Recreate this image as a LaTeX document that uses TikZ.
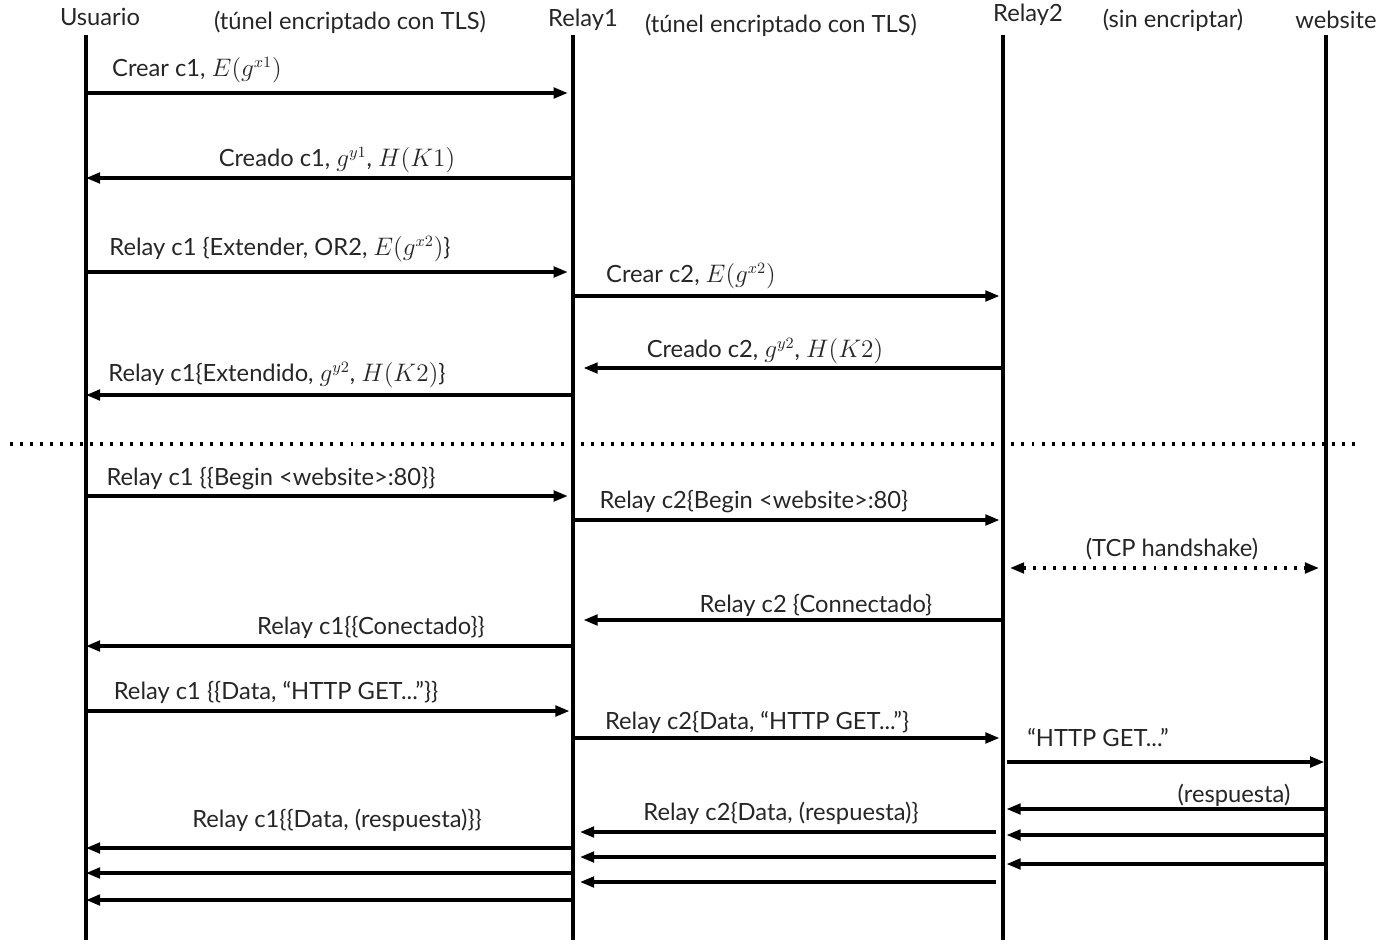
\documentclass[tikz,border=0pt]{standalone}
\usepackage{amsmath}
\usepackage[no-math]{fontspec}
\setmainfont{Lato}
\DeclareMathSizes{13.5}{13.5}{9.5}{7}
\usetikzlibrary{arrows.meta,calc,positioning}

\begin{document}
\begin{tikzpicture}[x=0.02cm,y=-0.02cm,
  lbl/.style={font=\fontsize{13.5}{16}\selectfont, text=black!85, inner sep=0pt},
  life/.style={line width=1.8pt},
  msg/.style={line width=1.8pt, -{Triangle[length=8pt,width=6pt]}},
  hand/.style={line width=1.8pt, dash pattern=on 1.7pt off 4pt, {Triangle[length=8pt,width=6pt]}-{Triangle[length=8pt,width=6pt]}}
]
  \useasboundingbox (0,0) rectangle (1385,943);

  % headers
  \node [lbl] (usuario) at (100,17) {Usuario};
  \node [lbl] (tls1) at (350,22) {(túnel encriptado con TLS)};
  \node [lbl] (relay1) at (583,20) {Relay1};
  \node [lbl] (tls2) at (781,25) {(túnel encriptado con TLS)};
  \node [lbl] (relay2) at (1028,15) {Relay2};
  \node [lbl] (sinenc) at (1173,20) {(sin encriptar)};
  \node [lbl] (website) at (1336,20) {website};

  % lifelines
  \coordinate (usr) at (86,35);
  \coordinate (rl1) at (573,35);
  \coordinate (rl2) at (1003,35);
  \coordinate (web) at (1326,35);
  \draw [life] (usr) -- (usr |- 0,940);
  \draw [life] (rl1) -- (rl1 |- 0,940);
  \draw [life] (rl2) -- (rl2 |- 0,940);
  \draw [life] (web) -- (web |- 0,940);

  % circuit setup
  \node [lbl] (m1) at (197,70) {Crear c1, $E(g^{x1})$};
  \draw [msg, shorten >=3pt] (usr |- 0,93) -- (rl1 |- 0,93);
  \node [lbl] (m2) at (337,160) {Creado c1, $g^{y1}$, $H(K1)$};
  \draw [msg] (rl1 |- 0,178) -- (usr |- 0,178);
  \node [lbl] (m3) at (280,249) {Relay c1 \{Extender, OR2, $E(g^{x2})$\}};
  \draw [msg, shorten >=3pt] (usr |- 0,272) -- (rl1 |- 0,272);
  \node [lbl] (m4) at (691,276) {Crear c2, $E(g^{x2})$};
  \draw [msg, shorten >=2pt] (rl1 |- 0,296) -- (rl2 |- 0,296);
  \node [lbl] (m5) at (765,351) {Creado c2, $g^{y2}$, $H(K2)$};
  \draw [msg, shorten >=6pt] (rl2 |- 0,368) -- (rl1 |- 0,368);
  \node [lbl] (m6) at (277,375) {Relay c1\{Extendido, $g^{y2}$, $H(K2)$\}};
  \draw [msg] (rl1 |- 0,395) -- (usr |- 0,395);

  % separator
  \coordinate (sepl) at (10,444);
  \coordinate (sepr) at (1360,444);
  \draw [line width=1.8pt, dash pattern=on 1.7pt off 4pt] (sepl) -- (sepr);

  % stream
  \node [lbl] (m8) at (271,479) {Relay c1 \{\{Begin <website>:80\}\}};
  \draw [msg, shorten >=3pt] (usr |- 0,496) -- (rl1 |- 0,496);
  \node [lbl] (m9) at (754,502) {Relay c2\{Begin <website>:80\}};
  \draw [msg, shorten >=2pt] (rl1 |- 0,520) -- (rl2 |- 0,520);
  \node [lbl] (m10) at (1172,549) {(TCP handshake)};
  \draw [hand, shorten <=4pt, shorten >=4pt] (rl2 |- 0,568) -- (web |- 0,568);
  \node [lbl] (m11) at (816,605) {Relay c2 \{Connectado\}};
  \draw [msg, shorten >=6pt] (rl2 |- 0,620) -- (rl1 |- 0,620);
  \node [lbl] (m12) at (371,627) {Relay c1\{\{Conectado\}\}};
  \draw [msg] (rl1 |- 0,646) -- (usr |- 0,646);

  % data
  \node [lbl] (m13) at (276,692) {Relay c1 \{\{Data, “HTTP GET...”\}\}};
  \draw [msg, shorten >=2pt] (usr |- 0,711) -- (rl1 |- 0,711);
  \node [lbl] (m14) at (757,722) {Relay c2\{Data, “HTTP GET...”\}};
  \draw [msg, shorten >=2pt] (rl1 |- 0,738) -- (rl2 |- 0,738);
  \node [lbl] (m15) at (1098,738) {“HTTP GET...”};
  \draw [msg, shorten <=2pt, shorten >=1pt] (rl2 |- 0,762) -- (web |- 0,762);

  % answers
  \node [lbl] (m16) at (1234,795) {(respuesta)};
  \draw [msg, shorten >=2pt] (web |- 0,809) -- (rl2 |- 0,809);
  \draw [msg, shorten >=2pt] (web |- 0,835) -- (rl2 |- 0,835);
  \draw [msg, shorten >=2pt] (web |- 0,864) -- (rl2 |- 0,864);
  \node [lbl] (m19) at (781,813) {Relay c2\{Data, (respuesta)\}};
  \draw [msg, shorten <=4pt, shorten >=4pt] (rl2 |- 0,832) -- (rl1 |- 0,832);
  \draw [msg, shorten <=4pt, shorten >=4pt] (rl2 |- 0,857) -- (rl1 |- 0,857);
  \draw [msg, shorten <=4pt, shorten >=4pt] (rl2 |- 0,882) -- (rl1 |- 0,882);
  \node [lbl] (m22) at (337,820) {Relay c1\{\{Data, (respuesta)\}\}};
  \draw [msg] (rl1 |- 0,848) -- (usr |- 0,848);
  \draw [msg] (rl1 |- 0,873) -- (usr |- 0,873);
  \draw [msg] (rl1 |- 0,900) -- (usr |- 0,900);
\end{tikzpicture}
\end{document}
